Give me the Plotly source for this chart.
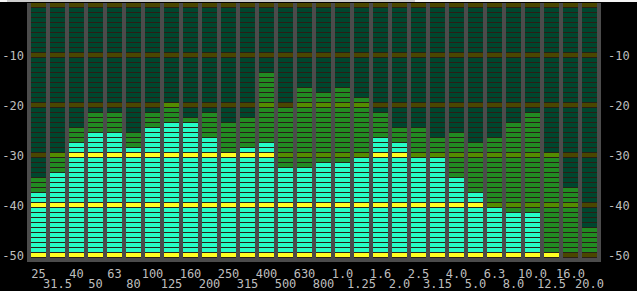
import plotly.graph_objects as go

# ---- data ----
band_labels = ["25", "31.5", "40", "50", "63", "80", "100", "125", "160", "200",
               "250", "315", "400", "500", "630", "800", "1.0", "1.25", "1.6", "2.0",
               "2.5", "3.15", "4.0", "5.0", "6.3", "8.0", "10.0", "12.5", "16.0", "20.0"]
# top lit cyan segment (dB) per band (None = no cyan)
level_db = [-38, -34, -28, -26, -26, -29, -25, -24, -24, -27,
            -30, -29, -28, -33, -33, -32, -32, -31, -27, -28,
            -31, -31, -35, -38, -41, -42, -42, -50, None, None]
# top lit green segment (dB) per band
peak_db = [-35, -30, -25, -22, -22, -26, -22, -20, -23, -22,
           -24, -23, -14, -21, -17, -18, -17, -19, -22, -25,
           -25, -27, -26, -28, -27, -24, -22, -30, -37, -45]
db_rows = list(range(-50, 1))
y_tick_vals = [-10, -20, -30, -40, -50]
y_tick_text = ["-10", "-20", "-30", "-40", "-50"]

# ---- styles ----
C_UNLIT = "#00462e"
C_UNLIT10 = "#4a4600"
C_GREEN = "#228b22"
C_GREEN10 = "#548c00"
C_CYAN = "#26fcc6"
C_YELLOW = "#ffff22"
C_GAP = "#2a1e16"
C_FRAME = "#4b4b4b"
TXT = "#bebebe"
FONT = "DejaVu Sans Mono"
SEG_W = 15 / 19
SEG_H = 0.8

n = len(band_labels)
idx = list(range(n))

colors = [C_UNLIT, C_UNLIT10, C_GREEN, C_GREEN10, C_CYAN, C_YELLOW]
groups = {k: ([], []) for k in range(6)}
for i in idx:
    c = level_db[i]
    g = peak_db[i]
    for d in db_rows:
        ten = (d % 10 == 0)
        if c is not None and d <= c:
            k = 5 if ten else 4
        elif -49 <= d <= g:
            k = 3 if ten else 2
        else:
            k = 1 if ten else 0
        groups[k][0].append(i)
        groups[k][1].append(d)

fig = go.Figure()
# dark column behind segments (shows through the 1px gaps)
fig.add_trace(go.Bar(
    x=idx, y=[len(db_rows)] * n, base=[db_rows[0] - 0.5] * n,
    width=SEG_W, marker=dict(color=C_GAP, line=dict(width=0)),
    hoverinfo="skip", xaxis="x", yaxis="y"))
for k in range(6):
    xs, ds = groups[k]
    if not xs:
        continue
    fig.add_trace(go.Bar(
        x=xs, y=[SEG_H] * len(xs), base=[d - 0.3 for d in ds],
        width=SEG_W, marker=dict(color=colors[k], line=dict(width=0)),
        hoverinfo="skip", xaxis="x2", yaxis="y2"))

xr = [-0.5 - 2 / 19, n - 0.5 + 2 / 19]
yr = [-51.3, 0.5]
axfont = dict(family=FONT, size=12, color=TXT)
common = dict(showgrid=False, zeroline=False, ticks="", showline=False,
              gridcolor="rgba(0,0,0,0)", zerolinecolor="rgba(0,0,0,0)",
              tickfont=axfont, fixedrange=True)

fig.update_layout(
    template="none",
    width=637, height=291,
    margin=dict(l=27, r=36, t=3, b=29),
    paper_bgcolor="black", plot_bgcolor=C_FRAME,
    showlegend=False, barmode="overlay",
    xaxis=dict(range=xr, tickvals=idx[0::2], ticktext=band_labels[0::2],
               ticklabelstandoff=3, **common),
    xaxis2=dict(range=xr, overlaying="x", anchor="y2", side="bottom",
                tickvals=idx[1::2], ticktext=band_labels[1::2],
                ticklabelstandoff=13, **common),
    yaxis=dict(range=yr, tickvals=y_tick_vals, ticktext=y_tick_text,
               ticklabelstandoff=2, **common),
    yaxis2=dict(range=yr, overlaying="y", anchor="x2", side="right",
                tickvals=y_tick_vals, ticktext=y_tick_text,
                ticklabelstandoff=6, **common),
    shapes=[
        dict(type="rect", xref="paper", yref="paper",
             x0=-27 / 574, x1=610 / 574, y0=1 + 1 / 259, y1=1 + 3 / 259,
             fillcolor="#f4f4f4", line=dict(width=0), layer="above"),
        dict(type="rect", xref="paper", yref="paper",
             x0=-20 / 574, x1=388 / 574, y0=1 + 1 / 259, y1=1 + 3 / 259,
             fillcolor="#cccccc", line=dict(width=0), layer="above"),
    ],
)

fig.write_html("out.html")
